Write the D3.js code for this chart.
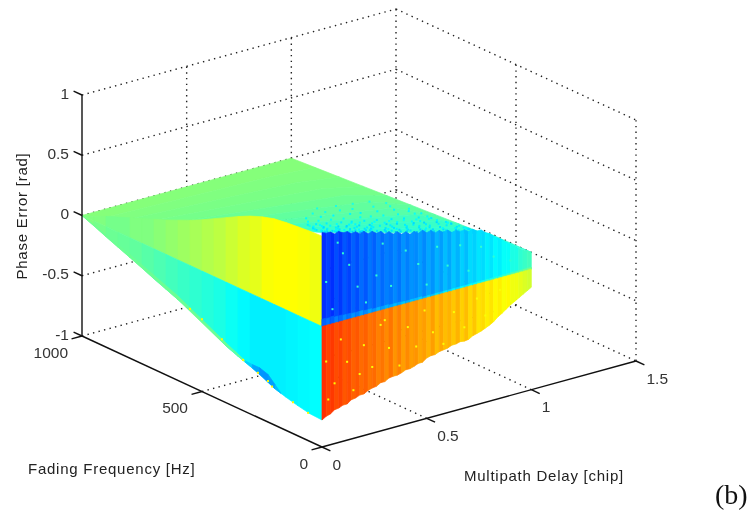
<!DOCTYPE html>
<html>
<head>
<meta charset="utf-8">
<script src="https://cdn.jsdelivr.net/npm/d3@7"></script>
<style>
  html, body { margin: 0; padding: 0; background: #fff; }
  svg { display: block; filter: blur(0.35px); }
  .tick { font: 15.5px "Liberation Sans", sans-serif; fill: #333; dominant-baseline: central; }
  .title { font: 15px "Liberation Sans", sans-serif; letter-spacing: 0.75px; fill: #222; dominant-baseline: central; }
</style>
</head>
<body>
<script>
// axes
const delayTicks = [0, 0.5, 1, 1.5]
const freqTicks = [0, 500, 1000]
const phaseTicks = [-1, -0.5, 0, 0.5, 1]
const delayLabels = ["0", "0.5", "1", "1.5"]
const freqLabels = ["0", "500", "1000"]
const phaseLabels = ["-1", "-0.5", "0", "0.5", "1"]

// side of the surface, delay = 0, read along frequency
const sideFreq = [1000, 950, 900, 850, 800, 750, 700, 650, 600, 550, 500, 450, 400, 350, 300, 250, 200, 150, 100, 50, 0]
const sideTop = [0, .04, .085, .125, .165, .205, .245, .285, .33, .375, .425, .48, .535, .59, .64, .68, .71, .725, .735, .745, .75]
const sideLow = [0, -.04, -.085, -.125, -.165, -.205, -.25, -.29, -.33, -.37, -.415, -.475, -.53, -.57, -.605, -.645, -.695, -.725, -.75, -.77, -.776]
const sideTopTone = [.50, .50, .49, .49, .50, .50, .51, .52, .53, .54, .55, .56, .575, .59, .60, .62, .625, .625, .62, .61]
const sideLowTone = [.50, .49, .48, .475, .47, .46, .45, .44, .43, .42, .41, .40, .385, .37, .36, .36, .36, .365, .37, .375]
// thin band along the lower side edge
const fringeFreq = [1000, 800, 600, 400, 320, 290, 260, 225, 195, 170]
const fringeLift = [0, .025, .03, .025, .012, .03, .055, .065, .035, 0]
const fringeTone = [.48, .48, .48, .47, .33, .29, .27, .28, .31]
const edgeDotFreq = [550, 500, 417, 329, 267, 225, 208, 121, 58]
const edgeDotZ = [-.36, -.40, -.49, -.58, -.63, -.66, -.69, -.74, -.77]

// front of the surface, frequency = 0, read along delay
const frontDelay = [0, .02, .04, .06, .08, .10, .12, .14, .16, .18, .20, .22, .24, .26, .28, .30, .32, .34, .36, .38, .40, .42, .44, .46, .48, .50, .52, .54, .56, .58, .60, .62, .64, .66, .68, .70, .72, .74, .76, .78, .80, .82, .84, .86, .88, .90, .92, .94, .96, .98, 1]
const frontTop = [.78, .765, .765, .74, .75, .73, .73, .705, .71, .685, .695, .665, .675, .65, .655, .625, .635, .605, .615, .585, .595, .565, .58, .555, .57, .54, .55, .52, .53, .505, .515, .485, .495, .47, .48, .455, .465, .44, .44, .41, .39, .36, .335, .31, .28, .255, .23, .205, .18, .16, .14]
const frontLow = [-.776, -.755, -.745, -.72, -.715, -.70, -.70, -.675, -.67, -.655, -.655, -.635, -.625, -.62, -.60, -.60, -.58, -.575, -.575, -.565, -.55, -.55, -.54, -.525, -.525, -.50, -.49, -.49, -.475, -.47, -.465, -.45, -.45, -.44, -.445, -.44, -.42, -.41, -.40, -.385, -.37, -.35, -.32, -.30, -.275, -.25, -.23, -.21, -.19, -.17, -.15]
const frontTopTone = [.17, .19, .17, .20, .18, .21, .19, .22, .20, .23, .21, .24, .22, .25, .23, .25, .24, .26, .24, .27, .25, .27, .26, .28, .26, .29, .27, .30, .28, .31, .29, .32, .30, .33, .31, .34, .33, .35, .34, .36, .35, .37, .36, .38, .38, .40, .40, .42, .43, .44]
const frontLowTone = [.83, .81, .82, .80, .81, .79, .80, .78, .79, .77, .78, .76, .77, .75, .76, .74, .76, .73, .75, .72, .74, .72, .73, .71, .72, .70, .72, .69, .71, .69, .70, .68, .70, .67, .69, .66, .68, .65, .66, .64, .65, .63, .64, .62, .63, .61, .61, .60, .59, .58]
const rimHeight = [.06, .055, .06, .05, .05, .045, .045, .04, .04, .04, .035, .035, .03, .03, .03, .03, .025, .025, .025, .02, .02, .02, .02, .02, .015, .015, .015, .015, .015, .015, .015, .015, .015, .015, .015, .015, .015, .015, .015, .015, .015, .015, .015, .015, .015, .015, .015, .015, .015, .015]

// top sheet, bands running along delay
const sheetDelay = [0, .5, .8, 1]
const sheetFrontZ = [.78, .54, .39, .14]
const bandFreq = [1000, 900, 800, 700, 600, 500, 400, 300, 200, 100, 0]
const bandTone = [.505, .50, .495, .49, .48, .47, .46, .44, .43, .42]

// scattered points on the sheet, one row per frequency
const dotFreq = [15, 30, 50, 70, 90, 110, 135, 160, 185, 210, 235, 260, 320, 380, 440, 500]
const dotTone = [.31, .33, .35, .34, .37, .35, .36, .36, .34, .37, .38, .36, .38, .37, .39, .40]
const dotDelay = [
  [.03, .09, .14, .20, .30, .37, .47, .54, .60, .67, .73],
  [.06, .11, .18, .22, .27, .34, .41, .44, .52, .57, .63, .70, .75],
  [.07, .12, .19, .25, .32, .36, .39, .48, .55, .58, .65, .71, .77],
  [.08, .13, .16, .24, .29, .31, .38, .45, .49, .55, .61, .66, .72, .78],
  [.10, .17, .21, .28, .34, .42, .46, .51, .60, .68, .74, .79],
  [.10, .15, .21, .26, .33, .36, .43, .47, .53, .59, .64, .69, .77, .83],
  [.12, .18, .23, .31, .37, .40, .49, .56, .62, .67, .75, .81, .85],
  [.14, .19, .25, .30, .35, .42, .46, .51, .58, .62, .68, .74, .80, .86],
  [.17, .22, .29, .33, .39, .44, .52, .57, .65, .70, .76, .83],
  [.20, .24, .28, .37, .40, .48, .54, .60, .67, .71, .79, .84],
  [.21, .26, .34, .41, .45, .52, .59, .66, .72, .78, .87],
  [.23, .27, .32, .39, .44, .50, .56, .63, .69, .76, .82, .89],
  [.30, .35, .41, .47, .55, .60, .66, .73, .81, .87],
  [.36, .43, .49, .57, .62, .70, .78, .85, .91],
  [.46, .52, .59, .65, .75, .83, .92],
  [.55, .64, .72, .80, .88]
]

// scattered points on the two front faces
const upperDotDelay = [.075, .02, .05, .13, .17, .26, .29, .33, .40, .46, .50, .55, .60, .66, .70, .76, .82, .90, .10, .21]
const upperDotZ = [.66, .36, .12, .45, .25, .30, .55, .18, .44, .30, .11, .40, .22, .36, .13, .30, .19, .12, .56, .10]
const lowerDotDelay = [.02, .06, .09, .12, .15, .20, .24, .28, .32, .37, .41, .45, .49, .53, .58, .63, .68, .74, .78, .85, .03, .18, .30]
const lowerDotZ = [-.30, -.50, -.15, -.35, -.60, -.25, -.45, -.12, -.33, -.50, -.20, -.38, -.10, -.30, -.42, -.18, -.33, -.12, -.28, -.10, -.62, -.48, -.09]

const svgWidth = 756
const svgHeight = 521

const svg = d3.select("body").append("svg")
  .attr("width", svgWidth)
  .attr("height", svgHeight)

// the three axes share one oblique projection
const delayX = d3.scaleLinear().domain([0, 1.5]).range([0, 314])
const delayY = d3.scaleLinear().domain([0, 1.5]).range([0, -86])
const freqX = d3.scaleLinear().domain([0, 1000]).range([0, -240])
const freqY = d3.scaleLinear().domain([0, 1000]).range([0, -111])
const phaseY = d3.scaleLinear().domain([-1, 1]).range([0, -241])
const originX = 322
const originY = 447

function px(d, f) { return originX + delayX(d) + freqX(f) }
function py(d, f, z) { return originY + delayY(d) + freqY(f) + phaseY(z) }
function pt(d, f, z) { return [px(d, f), py(d, f, z)] }

const jet = d3.scaleLinear()
  .domain([0, .125, .375, .625, .875, 1])
  .range(["#00008f", "#0000ff", "#00ffff", "#ffff00", "#ff0000", "#800000"])

const line = d3.line()

function poly(g, points, tone) {
  g.append("path")
    .attr("d", line(points) + "Z")
    .attr("fill", jet(tone))
    .attr("stroke", jet(tone))
    .attr("stroke-width", 0.7)
}

function dot(g, p, tone) {
  g.append("rect")
    .attr("x", p[0] - 1)
    .attr("y", p[1] - 1)
    .attr("width", 2)
    .attr("height", 2)
    .attr("fill", jet(tone))
}

// grid
const grid = svg.append("g")
  .attr("fill", "none")
  .attr("stroke", "#222")
  .attr("stroke-width", 1.4)
  .attr("stroke-dasharray", "1.4,4.3")

function gridLine(a, b) {
  grid.append("path").attr("d", line([a, b]))
}

phaseTicks.forEach(function(z) {
  gridLine(pt(0, 1000, z), pt(1.5, 1000, z))
  gridLine(pt(1.5, 1000, z), pt(1.5, 0, z))
})
delayTicks.slice(1).forEach(function(d) {
  gridLine(pt(d, 1000, -1), pt(d, 1000, 1))
})
delayTicks.slice(1, 3).forEach(function(d) {
  gridLine(pt(d, 0, -1), pt(d, 1000, -1))
})
freqTicks.slice(0, 2).forEach(function(f) {
  gridLine(pt(1.5, f, -1), pt(1.5, f, 1))
})
gridLine(pt(0, 500, -1), pt(1.5, 500, -1))

// surface
const surface = svg.append("g")
const sheetZ = d3.scaleLinear().domain(sheetDelay).range(sheetFrontZ)

function sheetPoint(d, f) {
  return pt(d, f, sheetZ(d) * (1 - f / 1000))
}

bandTone.forEach(function(tone, i) {
  const f0 = bandFreq[i]
  const f1 = bandFreq[i + 1]
  const back = sheetDelay.map(function(d) { return sheetPoint(d, f0) })
  const front = sheetDelay.map(function(d) { return sheetPoint(d, f1) }).reverse()
  poly(surface, back.concat(front), tone)
})

dotDelay.forEach(function(row, i) {
  row.forEach(function(d) {
    dot(surface, sheetPoint(d, dotFreq[i]), dotTone[i])
  })
})

// side, above and below zero
sideTopTone.forEach(function(tone, i) {
  const f0 = sideFreq[i]
  const f1 = sideFreq[i + 1]
  poly(surface, [pt(0, f0, sideTop[i]), pt(0, f1, sideTop[i + 1]), pt(0, f1, 0), pt(0, f0, 0)], tone)
  poly(surface, [pt(0, f0, 0), pt(0, f1, 0), pt(0, f1, sideLow[i + 1]), pt(0, f0, sideLow[i])], sideLowTone[i])
})

const lowAt = d3.scaleLinear().domain(sideFreq).range(sideLow)
fringeTone.forEach(function(tone, i) {
  const f0 = fringeFreq[i]
  const f1 = fringeFreq[i + 1]
  poly(surface, [
    pt(0, f0, lowAt(f0) + fringeLift[i]),
    pt(0, f1, lowAt(f1) + fringeLift[i + 1]),
    pt(0, f1, lowAt(f1)),
    pt(0, f0, lowAt(f0))
  ], tone)
})
edgeDotFreq.forEach(function(f, i) {
  dot(surface, pt(0, f, edgeDotZ[i]), .63)
})

// front faces, one strip per delay step
frontTopTone.forEach(function(tone, i) {
  const d0 = frontDelay[i]
  const d1 = frontDelay[i + 1]
  poly(surface, [pt(d0, 0, frontTop[i]), pt(d1, 0, frontTop[i + 1]), pt(d1, 0, 0), pt(d0, 0, 0)], tone)
  poly(surface, [pt(d0, 0, rimHeight[i]), pt(d1, 0, rimHeight[i]), pt(d1, 0, 0), pt(d0, 0, 0)], tone + .05)
  poly(surface, [pt(d0, 0, 0), pt(d1, 0, 0), pt(d1, 0, frontLow[i + 1]), pt(d0, 0, frontLow[i])], frontLowTone[i])
})
upperDotDelay.forEach(function(d, i) {
  dot(surface, pt(d, 0, upperDotZ[i]), .42)
})
lowerDotDelay.forEach(function(d, i) {
  dot(surface, pt(d, 0, lowerDotZ[i]), .62)
})

// axes
const axes = svg.append("g")
  .attr("fill", "none")
  .attr("stroke", "#111")
  .attr("stroke-width", 1.4)

function axisLine(a, b) {
  axes.append("path").attr("d", line([a, b]))
}

axisLine(pt(0, 0, -1), pt(1.5, 0, -1))
axisLine(pt(0, 0, -1), pt(0, 1000, -1))
axisLine(pt(0, 1000, -1), pt(0, 1000, 1))

delayTicks.forEach(function(d, i) {
  axisLine(pt(d, 0, -1), pt(d, -35, -1))
  svg.append("text").attr("class", "tick")
    .attr("x", px(d, 0) + 10.5)
    .attr("y", py(d, 0, -1) + 17)
    .text(delayLabels[i])
})
freqTicks.forEach(function(f, i) {
  axisLine(pt(0, f, -1), pt(-0.05, f, -1))
  svg.append("text").attr("class", "tick")
    .attr("text-anchor", "end")
    .attr("x", px(0, f) - 14)
    .attr("y", py(0, f, -1) + 16)
    .text(freqLabels[i])
})
phaseTicks.forEach(function(z, i) {
  axisLine(pt(0, 1000, z), pt(0, 1035, z))
  svg.append("text").attr("class", "tick")
    .attr("text-anchor", "end")
    .attr("x", px(0, 1000) - 13)
    .attr("y", py(0, 1000, z) - 2)
    .text(phaseLabels[i])
})

// titles
svg.append("text").attr("class", "title")
  .attr("text-anchor", "middle")
  .attr("transform", "translate(21,216) rotate(-90)")
  .text("Phase Error [rad]")
svg.append("text").attr("class", "title")
  .attr("x", 28).attr("y", 468)
  .text("Fading Frequency [Hz]")
svg.append("text").attr("class", "title")
  .attr("x", 464).attr("y", 475)
  .text("Multipath Delay [chip]")
svg.append("text")
  .attr("x", 715).attr("y", 504)
  .style("font", '28px "Liberation Serif", serif')
  .attr("fill", "#111")
  .text("(b)")
</script>
</body>
</html>
